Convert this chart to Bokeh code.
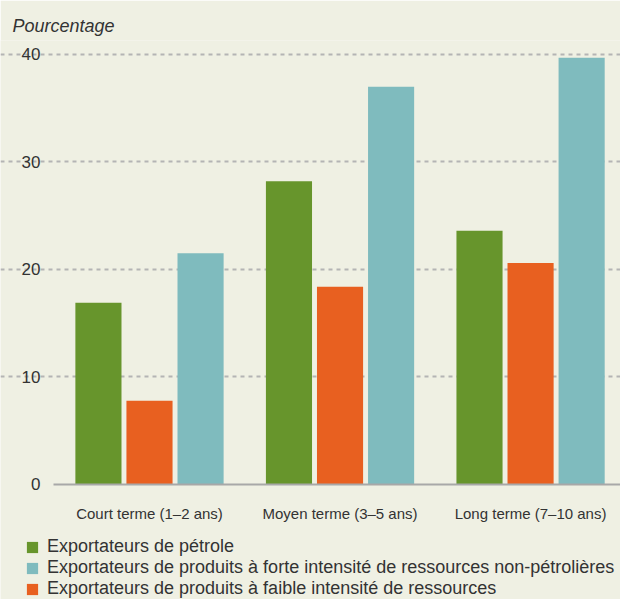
import numpy as np
from bokeh.plotting import figure
from bokeh.models import FixedTicker, Legend, LegendItem, Range1d
from bokeh.embed import file_html
from bokeh.resources import INLINE

categories = ["Court terme (1–2 ans)", "Moyen terme (3–5 ans)", "Long terme (7–10 ans)"]
petrole = [16.9, 28.2, 23.6]
forte = [21.5, 37.0, 39.7]
faible = [7.8, 18.4, 20.6]
series_names = [
    "Exportateurs de pétrole",
    "Exportateurs de produits à forte intensité de ressources non-pétrolières",
    "Exportateurs de produits à faible intensité de ressources",
]
y_ticks = [0, 10, 20, 30, 40]

BG = "#EFF0E3"
GREEN = "#67952C"
TEAL = "#7FBBBE"
ORANGE = "#E86020"
TXT = "#333333"
FONT = "Liberation Sans"

X_LEFT = -0.504
X_RIGHT = 2.472

xs = np.arange(len(categories))
p = figure(width=620, height=599, output_backend="svg", toolbar_location=None,
           x_range=Range1d(-0.782, X_RIGHT), y_range=Range1d(-10.70, 41.3),
           background_fill_color=BG, border_fill_color=BG,
           min_border_left=0, min_border_right=0, min_border_top=40, min_border_bottom=0)
p.outline_line_color = None

w = 0.242
off = 0.268
r1 = p.vbar(x=xs - off, top=petrole, width=w, color=GREEN, line_color=None)
r3 = p.vbar(x=xs, top=faible, width=w, color=ORANGE, line_color=None)
r2 = p.vbar(x=xs + off, top=forte, width=w, color=TEAL, line_color=None)

p.title.text = "Pourcentage"
p.title.text_font = FONT
p.title.text_font_style = "italic"
p.title.text_font_size = "18px"
p.title.text_color = TXT
p.title.align = "left"
p.title.offset = 12

p.yaxis.ticker = FixedTicker(ticks=y_ticks)
p.yaxis.fixed_location = X_LEFT
p.yaxis.axis_line_color = None
p.yaxis.major_tick_line_color = None
p.yaxis.minor_tick_line_color = None
p.yaxis.major_tick_out = 0
p.yaxis.major_label_text_font = FONT
p.yaxis.major_label_text_font_size = "17px"
p.yaxis.major_label_text_color = TXT
p.yaxis.major_label_text_align = "center"
p.yaxis.major_label_standoff = 13

p.xaxis.ticker = FixedTicker(ticks=list(xs))
p.xaxis.major_label_overrides = {int(i): c for i, c in zip(xs, categories)}
p.xaxis.fixed_location = 0
p.xaxis.bounds = (X_LEFT, X_RIGHT)
p.xaxis.axis_line_color = "#A8A8A8"
p.xaxis.axis_line_width = 2
p.xaxis.major_tick_line_color = None
p.xaxis.minor_tick_line_color = None
p.xaxis.major_tick_out = 0
p.xaxis.major_label_text_font = FONT
p.xaxis.major_label_text_font_size = "15px"
p.xaxis.major_label_text_color = TXT
p.xaxis.major_label_standoff = 21

p.xgrid.grid_line_color = None
p.ygrid.ticker = FixedTicker(ticks=y_ticks[1:])
p.ygrid.bounds = (X_LEFT, X_RIGHT)
p.ygrid.grid_line_color = "#B4B4B4"
p.ygrid.grid_line_width = 2
p.ygrid.grid_line_dash = "4 4"

legend = Legend(items=[
    LegendItem(label=series_names[0], renderers=[r1]),
    LegendItem(label=series_names[1], renderers=[r2]),
    LegendItem(label=series_names[2], renderers=[r3]),
], location=(25, 0), orientation="vertical")
legend.background_fill_alpha = 0
legend.border_line_color = None
legend.label_text_font = FONT
legend.label_text_font_size = "18px"
legend.label_text_color = TXT
legend.glyph_width = 14
legend.glyph_height = 14
legend.label_height = 21
legend.label_standoff = 8
legend.spacing = 0
legend.padding = 0
legend.margin = 0
p.add_layout(legend)

open("out.html", "w").write(file_html(p, INLINE))
